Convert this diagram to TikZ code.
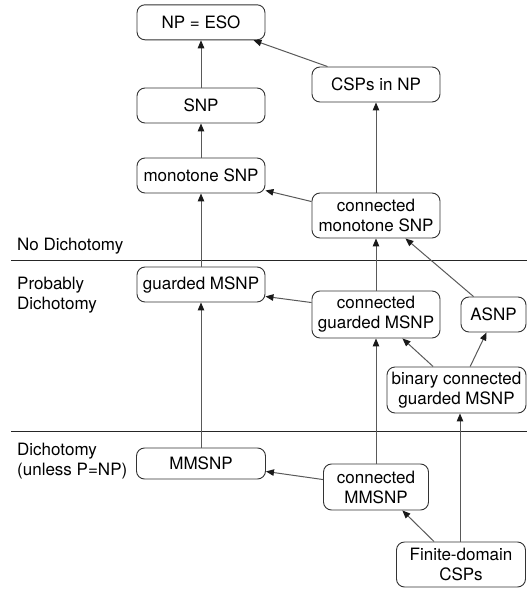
\documentclass[tikz,border=0pt]{standalone}
\usepackage{fontspec}
\setmainfont{TeX Gyre Heros}
\usetikzlibrary{arrows.meta,calc}
\begin{document}
\begin{tikzpicture}[x=1pt,y=-1pt,
  box/.style={draw=black!80, line width=0.9pt, rounded corners=8pt, align=center, inner sep=2pt, font=\fontsize{17}{20}\selectfont},
  arr/.style={draw=black!65, line width=1pt, -{Triangle[length=8pt,width=6.5pt,color=black!90]}},
  sep/.style={draw=black!85, line width=0.8pt},
  lbl/.style={align=left, inner sep=0pt, font=\fontsize{17}{20}\selectfont}]
\useasboundingbox (0,0) rectangle (527,589);
% nodes
\node[box, minimum width=128pt, minimum height=35pt] (npeso) at (201,22.3) {NP = ESO};
\node[box, minimum width=128pt, minimum height=35pt] (csp) at (376,84.5) {CSPs in NP};
\node[box, minimum width=128pt, minimum height=35pt] (snp) at (201,105.5) {SNP};
\node[box, minimum width=128pt, minimum height=35pt] (mono) at (201,175.5) {monotone SNP};
\node[box, minimum width=128pt, minimum height=45pt] (cmono) at (376,215.5) {connected\\monotone SNP};
\node[box, minimum width=128pt, minimum height=35pt] (guarded) at (201,284.5) {guarded MSNP};
\node[box, minimum width=128pt, minimum height=47pt] (cguard) at (376,314.5) {connected\\guarded MSNP};
\node[box, minimum width=65pt, minimum height=35pt] (asnp) at (493.5,314.5) {ASNP};
\node[box, minimum width=139pt, minimum height=46pt] (binary) at (456.5,390) {binary connected\\guarded MSNP};
\node[box, minimum width=129pt, minimum height=31pt] (mmsnp) at (201,463.5) {MMSNP};
\node[box, minimum width=105pt, minimum height=46pt] (cmmsnp) at (376,487) {connected\\MMSNP};
\node[box, minimum width=129pt, minimum height=45pt] (finite) at (461,564.5) {Finite-domain\\CSPs};
% labels (base anchor = baseline of last line)
\node[lbl, anchor=base west] (l1) at (17,250.4) {No Dichotomy};
\node[lbl, anchor=base west] (l2) at (17,309) {Probably\\Dichotomy};
\node[lbl, anchor=base west] (l3) at (17,475.7) {Dichotomy\\(unless P=NP)};
% separators
\coordinate (s1a) at (11,260.5); \coordinate (s1b) at (527,260.5);
\coordinate (s2a) at (11,431); \coordinate (s2b) at (527,431);
\draw[sep] (s1a) -- (s1b);
\draw[sep] (s2a) -- (s2b);
% arrows
\draw[arr] (snp.north) -- (npeso.south);
\draw[arr] (mono.north) -- (snp.south);
\draw[arr] (guarded.north) -- (mono.south);
\draw[arr] (mmsnp.north) -- (guarded.south);
\draw[arr] (cmono.north) -- (csp.south);
\draw[arr] ($(csp.north west)+(16,0)$) -- ($(npeso.south east)+(-12,0)$);
\draw[arr] ($(cmono.north west)+(0,9)$) -- ($(mono.south east)+(0,-3)$);
\draw[arr] (cguard.north) -- (cmono.south);
\draw[arr] ($(cguard.north west)+(0,12)$) -- ($(guarded.south east)+(0,-6)$);
\draw[arr] ($(asnp.north west)+(13,0)$) -- ($(cmono.south east)+(-35,0)$);
\draw[arr] ($(binary.north west)+(46.6,0)$) -- ($(cguard.south east)+(-38,0)$);
\draw[arr] ($(binary.north west)+(83.6,0)$) -- ($(asnp.south west)+(26,0)$);
\draw[arr] (cmmsnp.north) -- (cguard.south);
\draw[arr] ($(cmmsnp.north west)+(0,16)$) -- ($(mmsnp.south east)+(0,-8)$);
\draw[arr] ($(finite.north west)+(38,0)$) -- ($(cmmsnp.south east)+(-26.6,0)$);
\coordinate (fb) at ($(finite.north)+(-1,0)$);
\draw[arr] (fb) -- (fb |- binary.south);
\end{tikzpicture}
\end{document}
